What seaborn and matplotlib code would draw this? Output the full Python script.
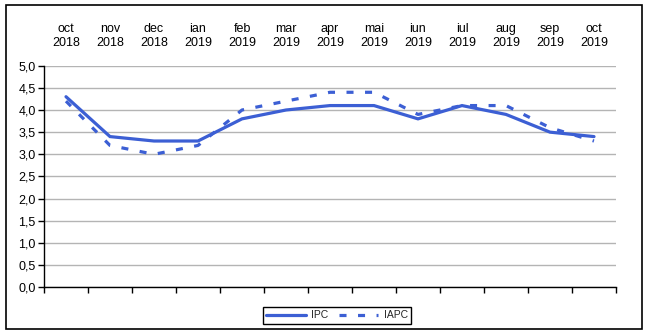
import numpy as np
import pandas as pd
import matplotlib
matplotlib.use("Agg")
import matplotlib.pyplot as plt
from matplotlib.patches import Rectangle
from matplotlib.ticker import FixedLocator, FuncFormatter
import seaborn as sns

months = ["oct\n2018", "nov\n2018", "dec\n2018", "ian\n2019", "feb\n2019", "mar\n2019",
          "apr\n2019", "mai\n2019", "iun\n2019", "iul\n2019", "aug\n2019", "sep\n2019",
          "oct\n2019"]
ipc = [4.3, 3.4, 3.3, 3.3, 3.8, 4.0, 4.1, 4.1, 3.8, 4.1, 3.9, 3.5, 3.4]
iapc = [4.2, 3.2, 3.0, 3.2, 4.0, 4.2, 4.4, 4.4, 3.9, 4.1, 4.1, 3.6, 3.3]
y_ticks = [0.0, 0.5, 1.0, 1.5, 2.0, 2.5, 3.0, 3.5, 4.0, 4.5, 5.0]

sns.set_theme(style="white")
plt.rcParams["font.family"] = ["Liberation Sans", "DejaVu Sans"]

W, H = 647, 334
fig = plt.figure(figsize=(W / 100, H / 100), dpi=100)
left, right, top, bottom = 44, 616, 65.7, 287.2
ax = fig.add_axes([left / W, 1 - bottom / H, (right - left) / W, (bottom - top) / H])

pos = np.arange(len(months))
df = pd.DataFrame({"pos": pos, "IPC": ipc, "IAPC": iapc})
blue = "#3c5fd4"

sns.lineplot(data=df, x="pos", y="IPC", ax=ax, color=blue, linewidth=2.3,
             label="IPC", solid_joinstyle="miter")
sns.lineplot(data=df, x="pos", y="IAPC", ax=ax, color=blue, linewidth=2.3,
             label="IAPC", linestyle=(0, (2.2, 3.6)), dash_capstyle="butt")

ax.set_xlim(-0.5, len(months) - 0.5)
ax.set_ylim(0, 5)
ax.set_xlabel("")
ax.set_ylabel("")

# y axis
ax.yaxis.set_major_locator(FixedLocator(y_ticks))
ax.yaxis.set_major_formatter(FuncFormatter(lambda v, p: f"{v:.1f}".replace(".", ",")))
ax.grid(axis="y", color="#b4b4b4", linewidth=1.0)
ax.grid(axis="x", visible=False)
ax.tick_params(axis="y", which="major", left=True, length=4, width=1, color="black",
               labelsize=9, pad=2, labelcolor="black")

# category labels on top, boundary ticks at bottom
ax.xaxis.set_major_locator(FixedLocator(pos))
ax.set_xticklabels(months)
ax.xaxis.set_minor_locator(FixedLocator(np.arange(len(months) + 1) - 0.5))
ax.tick_params(axis="x", which="major", bottom=False, top=False, labelbottom=False,
               labeltop=True, labelsize=9, pad=6, labelcolor="black")
ax.tick_params(axis="x", which="minor", bottom=True, top=False, length=4, width=1,
               color="black", direction="out")

for s in ["top", "right"]:
    ax.spines[s].set_visible(False)
for s in ["left", "bottom"]:
    ax.spines[s].set_color("black")
    ax.spines[s].set_linewidth(1.0)
ax.set_axisbelow(True)

ax.get_legend().remove()
handles, labels = ax.get_legend_handles_labels()
leg = fig.legend(handles, labels, loc="center",
                 bbox_to_anchor=((262 + 412) / 2 / W, 1 - 315.5 / H),
                 bbox_transform=fig.transFigure, ncol=2, frameon=True,
                 fancybox=False, framealpha=1, edgecolor="black", fontsize=7.5,
                 handlelength=3.8, handletextpad=0.5, columnspacing=1.0,
                 borderpad=0.35, borderaxespad=0)
leg.get_frame().set_linewidth(1.0)

fig.add_artist(Rectangle((6 / W, 1 - 328.5 / H), (642 - 6) / W, (328.5 - 5) / H,
                         transform=fig.transFigure, fill=False, edgecolor="black",
                         linewidth=1.2))

fig.savefig("out.png", dpi=100, facecolor="white")
